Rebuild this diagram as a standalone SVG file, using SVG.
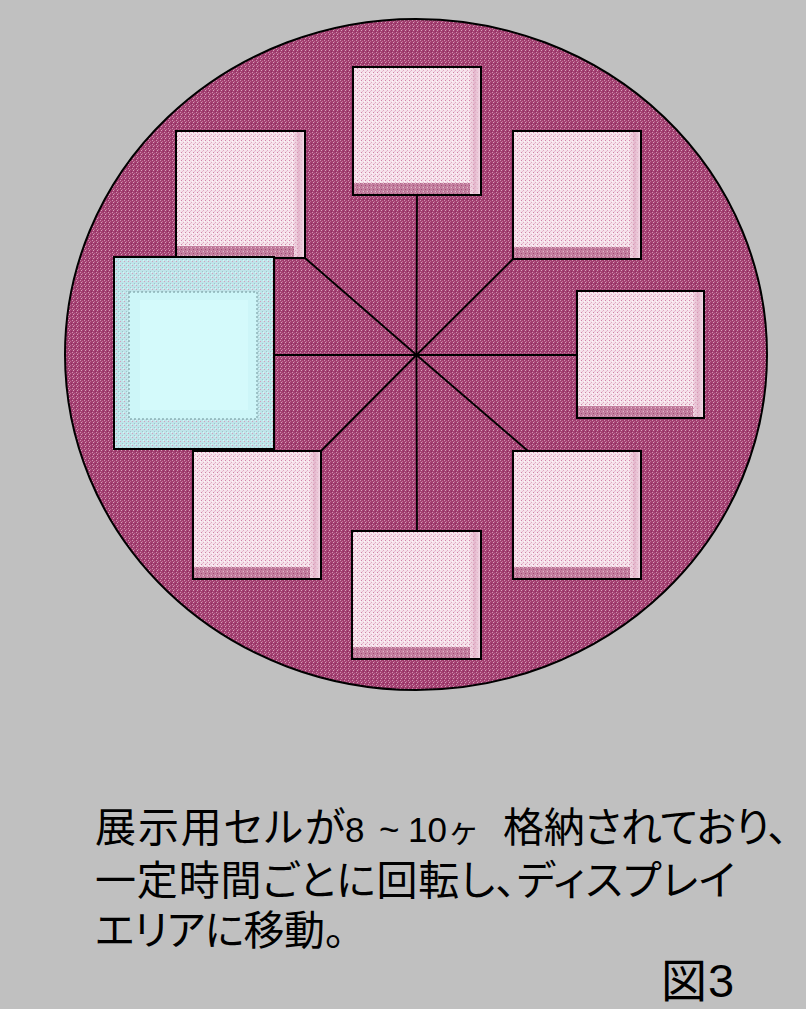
<svg xmlns="http://www.w3.org/2000/svg" width="806" height="1009" viewBox="0 0 806 1009">
<style>
.frame{fill:none;stroke:#000;stroke-width:2}
.cell{fill:url(#pinkTex)}
.bevB{fill:url(#bevTex)}
.bevR{fill:url(#bevR)}
.spoke{stroke:#000;stroke-width:1.8;fill:none}
.txt{font-family:"Liberation Sans","Noto Sans CJK JP",sans-serif;font-size:41px;fill:#000;font-feature-settings:"palt"}
.num{font-family:"Liberation Sans",sans-serif;font-size:35px}
</style>
<defs>
<pattern id="magTex" width="4" height="4" patternUnits="userSpaceOnUse">
<rect width="4" height="4" fill="#a23f70"/>
<rect x="0" y="0" width="1" height="1" fill="#cf92b0"/>
<rect x="2" y="1" width="1" height="1" fill="#bd6d94"/>
<rect x="1" y="2" width="1" height="1" fill="#d6a0ba"/>
<rect x="3" y="3" width="1" height="1" fill="#8e2e60"/>
</pattern>
<pattern id="pinkTex" width="4" height="4" patternUnits="userSpaceOnUse">
<rect width="4" height="4" fill="#f6e2eb"/>
<rect x="1" y="0" width="1" height="1" fill="#cf83a7"/>
<rect x="3" y="2" width="1" height="1" fill="#e0a9c2"/>
<rect x="2" y="3" width="1" height="1" fill="#e8bfd2"/>
<rect x="0" y="1" width="1" height="1" fill="#fdf7fa"/>
</pattern>
<pattern id="bevTex" width="4" height="4" patternUnits="userSpaceOnUse">
<rect width="4" height="4" fill="#c4809f"/>
<rect x="1" y="1" width="1" height="1" fill="#a04a76"/>
<rect x="3" y="3" width="1" height="1" fill="#e3bcce"/>
<rect x="0" y="3" width="1" height="1" fill="#b2628a"/>
</pattern>
<linearGradient id="bevR" x1="0" y1="0" x2="1" y2="0">
<stop offset="0" stop-color="#d99fba" stop-opacity="0"/>
<stop offset="0.5" stop-color="#d99fba" stop-opacity="0.6"/>
<stop offset="1" stop-color="#f4dde8" stop-opacity="0.9"/>
</linearGradient>
<pattern id="blueTex" width="4" height="4" patternUnits="userSpaceOnUse">
<rect width="4" height="4" fill="#bfe4e9"/>
<rect x="0" y="1" width="1" height="1" fill="#d49cbb"/>
<rect x="2" y="3" width="1" height="1" fill="#9fc6cc"/>
<rect x="3" y="0" width="1" height="1" fill="#d8f6f8"/>
</pattern>
</defs>
<rect width="806" height="1009" fill="#c0c0c0"/>
<g id="drum">
<ellipse cx="416" cy="354.5" rx="351" ry="335.5" fill="url(#magTex)" stroke="#000" stroke-width="2"/>
</g>
<g id="connectors">
<line class="spoke" x1="416.5" y1="355" x2="417" y2="195"/>
<line class="spoke" x1="416.5" y1="355" x2="513" y2="259"/>
<line class="spoke" x1="416.5" y1="355" x2="577" y2="355"/>
<line class="spoke" x1="416.5" y1="355" x2="528" y2="451"/>
<line class="spoke" x1="416.5" y1="355" x2="417" y2="531"/>
<line class="spoke" x1="416.5" y1="355" x2="321" y2="451"/>
<line class="spoke" x1="416.5" y1="355" x2="274" y2="355"/>
<line class="spoke" x1="416.5" y1="355" x2="305" y2="258"/>
</g>
<g id="cell-top">
<rect class="cell" x="353" y="67" width="128" height="128"/>
<rect class="bevB" x="354" y="183" width="116" height="11"/>
<rect class="bevR" x="469" y="68" width="11" height="126"/>
<rect class="frame" x="353" y="67" width="128" height="128"/>
</g>
<g id="cell-top-right">
<rect class="cell" x="513" y="131" width="128" height="128"/>
<rect class="bevB" x="514" y="247" width="116" height="11"/>
<rect class="bevR" x="629" y="132" width="11" height="126"/>
<rect class="frame" x="513" y="131" width="128" height="128"/>
</g>
<g id="cell-right">
<rect class="cell" x="577" y="291" width="127" height="127"/>
<rect class="bevB" x="578" y="406" width="115" height="11"/>
<rect class="bevR" x="692" y="292" width="11" height="125"/>
<rect class="frame" x="577" y="291" width="127" height="127"/>
</g>
<g id="cell-bottom-right">
<rect class="cell" x="513" y="451" width="128" height="128"/>
<rect class="bevB" x="514" y="567" width="116" height="11"/>
<rect class="bevR" x="629" y="452" width="11" height="126"/>
<rect class="frame" x="513" y="451" width="128" height="128"/>
</g>
<g id="cell-bottom">
<rect class="cell" x="352" y="531" width="129" height="128"/>
<rect class="bevB" x="353" y="647" width="117" height="11"/>
<rect class="bevR" x="469" y="532" width="11" height="126"/>
<rect class="frame" x="352" y="531" width="129" height="128"/>
</g>
<g id="cell-bottom-left">
<rect class="cell" x="193" y="451" width="128" height="128"/>
<rect class="bevB" x="194" y="567" width="116" height="11"/>
<rect class="bevR" x="309" y="452" width="11" height="126"/>
<rect class="frame" x="193" y="451" width="128" height="128"/>
</g>
<g id="cell-top-left">
<rect class="cell" x="176" y="131" width="129" height="127"/>
<rect class="bevB" x="177" y="246" width="117" height="11"/>
<rect class="bevR" x="293" y="132" width="11" height="125"/>
<rect class="frame" x="176" y="131" width="129" height="127"/>
</g>
<g id="display-cell">
<rect x="114" y="257" width="160" height="192" fill="url(#blueTex)"/>
<rect x="129" y="292" width="128" height="127" fill="#cdf6f8" stroke="#8fb4b8" stroke-width="1.5" stroke-dasharray="2 2"/>
<rect x="140" y="300" width="108" height="110" fill="#d4fafb"/>
<rect class="frame" x="114" y="257" width="160" height="192"/>
</g>
<g id="caption">
<text class="txt" y="842"><tspan x="95" textLength="250" lengthAdjust="spacing">展示用セルが</tspan><tspan class="num" x="345">8</tspan><tspan class="num" x="379">~</tspan><tspan class="num" x="408">10</tspan><tspan x="450" style="font-size:32px">ヶ</tspan><tspan x="503" textLength="285" lengthAdjust="spacing">格納されており、</tspan></text>
<text class="txt" x="95" y="895" textLength="640" lengthAdjust="spacing">一定時間ごとに回転し、ディスプレイ</text>
<text class="txt" x="95" y="945" textLength="250" lengthAdjust="spacing">エリアに移動。</text>
<text class="txt" y="997"><tspan x="661" style="font-size:46px">図</tspan><tspan x="708" style="font-size:47px">3</tspan></text>
</g>
</svg>
